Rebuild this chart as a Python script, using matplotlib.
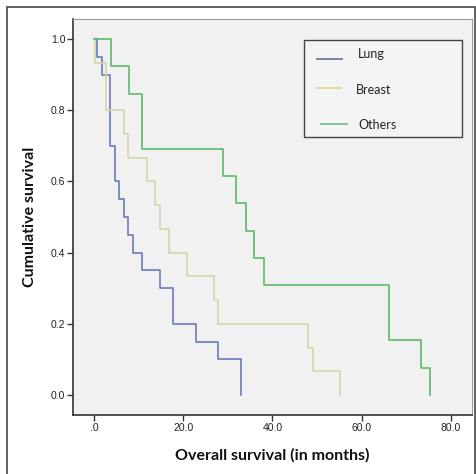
import matplotlib
matplotlib.use("Agg")
import matplotlib.pyplot as plt
from matplotlib.patches import Rectangle
from matplotlib.lines import Line2D

# ---- data ----
groups = ["Lung", "Breast", "Others"]

lung_t = [0, 0.7, 1.7, 3.7, 4.7, 5.7, 6.7, 7.7, 8.7, 10.8, 14.8, 17.8, 22.9, 27.9, 32.9]
lung_s = [1.0, 0.95, 0.90, 0.70, 0.60, 0.55, 0.50, 0.45, 0.40, 0.35, 0.30, 0.20, 0.15, 0.10, 0.0]

breast_t = [0, 0.3, 2.8, 6.7, 7.7, 11.8, 13.7, 14.8, 16.8, 20.8, 26.9, 27.9, 48.0, 49.0, 55.1]
breast_s = [1.0, 0.933, 0.80, 0.733, 0.667, 0.60, 0.533, 0.467, 0.40, 0.333, 0.267, 0.20, 0.133, 0.067, 0.0]

others_t = [0, 3.8, 7.8, 10.8, 28.8, 31.9, 34.0, 35.9, 38.0, 66.0, 73.2, 75.3]
others_s = [1.0, 0.923, 0.846, 0.692, 0.615, 0.538, 0.462, 0.385, 0.308, 0.154, 0.077, 0.0]

xticks = [0, 20, 40, 60, 80]
xtick_labels = [".0", "20.0", "40.0", "60.0", "80.0"]
yticks = [0.0, 0.2, 0.4, 0.6, 0.8, 1.0]
ytick_labels = ["0.0", "0.2", "0.4", "0.6", "0.8", "1.0"]

line_colors = ["#6A7BC0", "#D6D3AA", "#5DB96B"]
legend_colors = ["#6E7C9A", "#E4D68A", "#7DBE9A"]

W, H = 477, 474
fig = plt.figure(figsize=(W / 100, H / 100), dpi=100)
fig.patch.set_facecolor("white")

# outer frame
fig.add_artist(Rectangle((7 / W, -0.05), (475 - 7) / W, 1 - 7 / H + 0.05,
                         transform=fig.transFigure, fill=False,
                         edgecolor="#555555", linewidth=1.3))

ax = fig.add_axes([73 / W, 1 - 415 / H, (472 - 73) / W, (415 - 19) / H])
ax.set_facecolor("#F1F1F1")

for t, s, c in zip([lung_t, breast_t, others_t], [lung_s, breast_s, others_s], line_colors):
    ax.step(t, s, where="post", color=c, linewidth=1.2)

ax.set_xlim(-4.7, 84.7)
ax.set_ylim(-0.056, 1.056)
ax.set_xticks(xticks)
ax.set_xticklabels(xtick_labels)
ax.set_yticks(yticks)
ax.set_yticklabels(ytick_labels)
ax.tick_params(direction="out", length=4, width=1.0, colors="#333333",
               labelsize=7.5, pad=1.5)
for lab in ax.get_xticklabels() + ax.get_yticklabels():
    lab.set_family("Liberation Sans")
    lab.set_color("#222222")

for side in ["left", "bottom"]:
    ax.spines[side].set_color("#333333")
    ax.spines[side].set_linewidth(1.2)
for side in ["top", "right"]:
    ax.spines[side].set_color("#9A9A9A")
    ax.spines[side].set_linewidth(0.8)

ax.set_xlabel("Overall survival (in months)", fontsize=11.5, fontweight="bold",
              family="Lato", color="#111111", labelpad=11)
ax.set_ylabel("Cumulative survival", fontsize=11.5, fontweight="bold",
              family="Lato", color="#111111", labelpad=10)

# legend (drawn in axes fraction coordinates)
def axx(px):
    return (px - 73) / (472 - 73)

def axy(py):
    return (415 - py) / (415 - 19)

ax.add_patch(Rectangle((axx(304), axy(137)), axx(462) - axx(304), axy(40) - axy(137),
                       transform=ax.transAxes, facecolor="#F4F4F4",
                       edgecolor="#444444", linewidth=1.0, zorder=5))
leg_line_x = [(317, 342), (317, 341), (321, 347)]
leg_line_y = [59, 88, 124]
leg_text_x = [358, 356, 358]
leg_text_y = [54, 90, 125]
for name, c, (x0, x1), ly, tx, ty in zip(groups, legend_colors, leg_line_x,
                                         leg_line_y, leg_text_x, leg_text_y):
    ax.add_line(Line2D([axx(x0), axx(x1)], [axy(ly), axy(ly)], transform=ax.transAxes,
                       color=c, linewidth=1.3, zorder=6))
    ax.text(axx(tx), axy(ty), name, transform=ax.transAxes, fontsize=9,
            family="Lato", color="#222222", va="center", ha="left", zorder=6)

fig.savefig("out.png", dpi=100)
